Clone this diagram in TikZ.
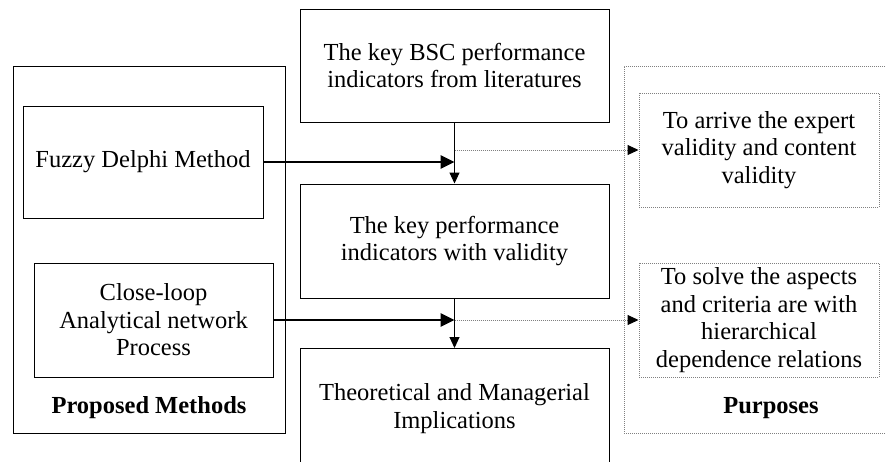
\documentclass[tikz,border=0pt]{standalone}
\usepackage{fontspec}
\setmainfont{Liberation Serif}
\usetikzlibrary{arrows.meta}

\begin{document}
\begin{tikzpicture}[x=1pt, y=-1pt, font=\fontsize{24.5}{27.5}\selectfont,
    box/.style={draw, line width=1pt, align=center, inner sep=0pt},
    aim/.style={draw=gray, densely dotted, line width=1pt, align=center, inner sep=0pt},
    heading/.style={font=\fontsize{24.5}{27.5}\selectfont\bfseries},
    feed/.style={line width=2.6pt, -{Triangle[length=14pt, width=13pt]}},
    flow/.style={line width=1pt, -{Triangle[length=11pt, width=10pt]}},
    branch/.style={draw=gray, densely dotted, line width=1pt, -{Triangle[length=11pt, width=10pt, black]}}]
    \path[use as bounding box, clip] (0,0) rectangle (885,461);
    \node[box, minimum width=272, minimum height=367] (methods) at (149,249.5) {};
    \node[heading] (methodstitle) at (149,408) {Proposed Methods};
    \node[box, minimum width=240, minimum height=112] (fuzzy) at (143,162) {Fuzzy Delphi Method};
    \node[box, minimum width=239, minimum height=114] (anp) at (153.5,320)
        {Close-loop\\Analytical network\\Process};
    \node[box, minimum width=309, minimum height=113] (bsc) at (454.5,65.5)
        {The key BSC performance\\indicators from literatures};
    \node[box, minimum width=309, minimum height=114] (kpi) at (454.5,241)
        {The key performance\\indicators with validity};
    \node[box, minimum width=309, minimum height=120, anchor=north] (impl) at (454.5,348)
        {Theoretical and Managerial\\Implications};
    \node[aim, minimum width=294, minimum height=367] (purposes) at (771,249.5) {};
    \node[heading] (purposestitle) at (771,408) {Purposes};
    \node[aim, minimum width=240, minimum height=114] (validity) at (759,150)
        {To arrive the expert\\validity and content\\validity};
    \node[aim, minimum width=240, minimum height=114] (relations) at (759,320)
        {To solve the aspects\\and criteria are with\\hierarchical\\dependence relations};
    \foreach \a/\b/\c/\d in {fuzzy/bsc/kpi/validity, anp/kpi/impl/relations}{
            \draw[flow] (\b) -- (\c);
            \draw[feed] (\a) -- (\b.south |- \a.east);
            \draw[branch] (\b.south |- \d.west) -- (\d);
        }
\end{tikzpicture}
\end{document}
